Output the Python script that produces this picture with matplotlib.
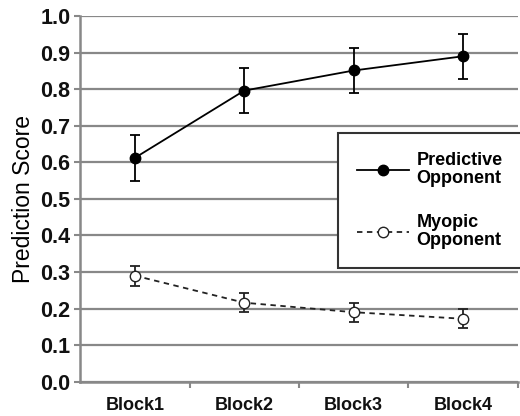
import matplotlib
matplotlib.use("Agg")
import matplotlib.pyplot as plt
from matplotlib.lines import Line2D

plt.rcParams['font.family'] = ['Liberation Sans', 'DejaVu Sans']

blocks = ['Block1', 'Block2', 'Block3', 'Block4']
predictive = [0.612, 0.796, 0.851, 0.890]
predictive_err = [0.063, 0.062, 0.062, 0.062]
myopic = [0.290, 0.216, 0.190, 0.172]
myopic_err = [0.027, 0.026, 0.026, 0.026]

fig = plt.figure(figsize=(5.2, 4.16), dpi=100)
ax = fig.add_axes([0.154, 0.0825, 0.842, 0.879])

dash = (0, (3, 2.5))
x = list(range(len(blocks)))
ax.errorbar(x, predictive, yerr=predictive_err, color='black', marker='o',
            markersize=7.5, linewidth=1.3, capsize=3.6, elinewidth=1.3,
            capthick=1.3, zorder=3)
ax.errorbar(x, myopic, yerr=myopic_err, color='#222222', marker='o',
            markerfacecolor='white', markeredgecolor='#222222',
            markersize=7.5, linewidth=1.3, linestyle=dash, capsize=3.6,
            elinewidth=1.3, capthick=1.3, zorder=3)

ax.set_xlim(-0.5, 3.5)
ax.set_ylim(0, 1.0)
ax.set_yticks([i / 10 for i in range(11)])
ax.set_yticklabels(['%.1f' % (i / 10) for i in range(11)],
                   fontsize=15.5, fontweight='bold', color='#111111')
ax.set_xticks(x)
ax.set_xticklabels(blocks, fontsize=13, fontweight='bold', color='#111111')
ax.set_xticks([0.5, 1.5, 2.5, 3.5], minor=True)
ax.tick_params(axis='x', which='major', length=0, pad=11)
ax.tick_params(axis='x', which='minor', length=4, color='#888888', width=1.5)
ax.tick_params(axis='y', length=4, color='#888888', width=1.5, pad=3)
ax.yaxis.grid(True, color='#888888', linewidth=1.6)
ax.set_axisbelow(True)
for s in ['top', 'right']:
    ax.spines[s].set_visible(False)
for s in ['left', 'bottom']:
    ax.spines[s].set_color('#888888')
    ax.spines[s].set_linewidth(1.8)

ax.set_ylabel('Prediction Score', fontsize=16.5, labelpad=4)

handles = [
    Line2D([], [], color='black', marker='o', markersize=7.5, linewidth=1.3),
    Line2D([], [], color='#222222', marker='o', markersize=7.5,
           markerfacecolor='white', linewidth=1.3, linestyle=dash),
]
labels = ['Predictive\nOpponent', 'Myopic\nOpponent']
leg = ax.legend(handles, labels, loc='upper left',
                bbox_to_anchor=(0.589, 0.679, 0.5, 0.0), mode='expand',
                frameon=True, fancybox=False,
                prop={'weight': 'bold', 'size': 13}, handlelength=2.9,
                labelspacing=1.5, borderpad=1.05, handletextpad=0.4,
                borderaxespad=0)
leg.get_frame().set_edgecolor('#333333')
leg.get_frame().set_linewidth(1.5)
leg.get_frame().set_alpha(1)
for t in leg.get_texts():
    t.set_linespacing(1.05)
    t.set_multialignment('left')

fig.savefig('out.png', dpi=100)
